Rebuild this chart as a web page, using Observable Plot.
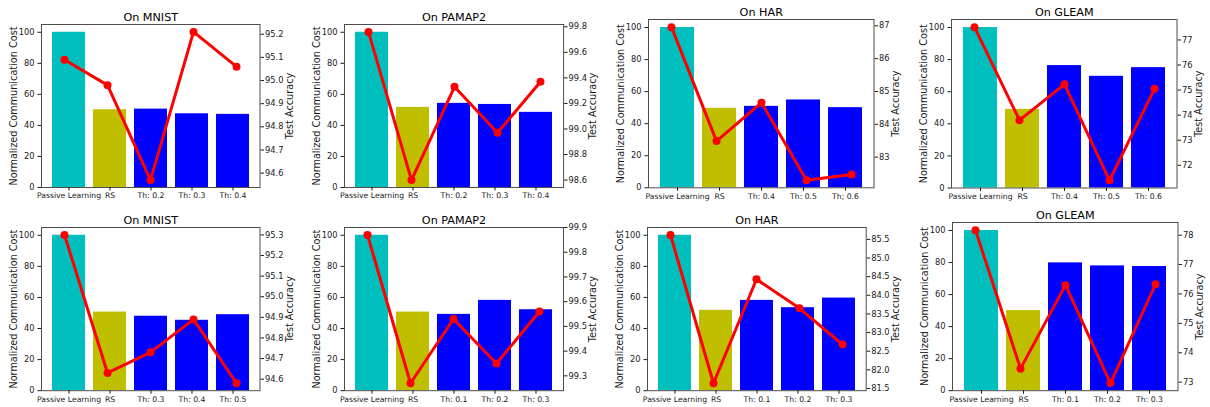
<!DOCTYPE html>
<html>
<head>
<meta charset="utf-8">
<script src="https://cdn.jsdelivr.net/npm/d3@7"></script>
<script src="https://cdn.jsdelivr.net/npm/@observablehq/plot@0.6"></script>
<style>
  body { margin: 0; background: #fff; }
  #fig { position: relative; width: 1210px; height: 407px; overflow: hidden; background: #fff; }
  #fig svg { position: absolute; overflow: visible; }
</style>
</head>
<body>
<div id="fig"></div>
<script>
// Communication cost (bars, left axis) and test accuracy (red line, right axis)
// for passive learning, random sampling and several thresholds, per dataset.
const titles = ["On MNIST", "On PAMAP2", "On HAR", "On GLEAM",
                "On MNIST", "On PAMAP2", "On HAR", "On GLEAM"];

const categories = [
  ["Passive Learning", "RS", "Th: 0.2", "Th: 0.3", "Th: 0.4"],
  ["Passive Learning", "RS", "Th: 0.2", "Th: 0.3", "Th: 0.4"],
  ["Passive Learning", "RS", "Th: 0.4", "Th: 0.5", "Th; 0.6"],
  ["Passive Learning", "RS", "Th: 0.4", "Th: 0.5", "Th: 0.6"],
  ["Passive Learning", "RS", "Th: 0.3", "Th: 0.4", "Th: 0.5"],
  ["Passive Learning", "RS", "Th: 0.1", "Th: 0.2", "Th: 0.3"],
  ["Passive Learning", "RS", "Th: 0.1", "Th: 0.2", "Th: 0.3"],
  ["Passive Learning", "RS", "Th: 0.1", "Th: 0.2", "Th: 0.3"]
];

const commCost = [
  [100, 50.1, 50.5, 47.5, 47.1],
  [100, 51.6, 54.2, 53.5, 48.4],
  [100, 49.6, 50.8, 54.8, 50.0],
  [100, 49.0, 76.3, 69.6, 75.0],
  [100, 50.6, 47.9, 45.3, 48.9],
  [100, 50.6, 49.1, 58.1, 52.1],
  [100, 51.7, 58.1, 53.4, 59.6],
  [100, 50.0, 79.8, 77.9, 77.5]
];

const testAccuracy = [
  [95.09, 94.98, 94.57, 95.21, 95.06],
  [99.76, 98.60, 99.33, 98.97, 99.37],
  [86.96, 83.49, 84.66, 82.30, 82.47],
  [77.51, 73.80, 75.23, 71.40, 75.05],
  [95.30, 94.63, 94.73, 94.89, 94.58],
  [99.87, 99.27, 99.53, 99.35, 99.56],
  [85.62, 81.64, 84.43, 83.65, 82.68],
  [78.17, 73.46, 76.30, 72.97, 76.33]
];

const costTicks = [0, 20, 40, 60, 80, 100];

const accuracyTicks = [
  [94.6, 94.7, 94.8, 94.9, 95.0, 95.1, 95.2],
  [98.6, 98.8, 99.0, 99.2, 99.4, 99.6, 99.8],
  [83, 84, 85, 86, 87],
  [72, 73, 74, 75, 76, 77],
  [94.6, 94.7, 94.8, 94.9, 95.0, 95.1, 95.2, 95.3],
  [99.3, 99.4, 99.5, 99.6, 99.7, 99.8, 99.9],
  [81.5, 82.0, 82.5, 83.0, 83.5, 84.0, 84.5, 85.0, 85.5],
  [73, 74, 75, 76, 77, 78]
];
const accuracyDecimals = [1, 1, 0, 0, 1, 1, 1, 0];

// Plot-area rectangles of the 2 x 4 grid (page pixels).
const frames = [
  {L: 41,    R: 259.5,  T: 24,    B: 187},
  {L: 344.2, R: 563.3,  T: 24,    B: 187},
  {L: 648.3, R: 873.8,  T: 18.7,  B: 187},
  {L: 951.3, R: 1176.8, T: 18.5,  B: 187},
  {L: 41,    R: 259.5,  T: 227.3, B: 390.5},
  {L: 344.3, R: 563.3,  T: 227.3, B: 390.5},
  {L: 647.3, R: 866,    T: 227.3, B: 390.5},
  {L: 951.5, R: 1177,   T: 222.3, B: 390.5}
];

const FONT = "'DejaVu Sans', 'Liberation Sans', sans-serif";
const TICK_FONT = 8.3;
const XTICK_FONT = 7.7;
const LABEL_FONT = 9.7;
const TITLE_FONT = 11.2;
const PAD = {left: 50, right: 50, top: 30, bottom: 22};

const barColor = i => i === 0 ? "#00bfbf" : i === 1 ? "#bfbf00" : "#0000ff";

const measure = document.createElement("canvas").getContext("2d");
measure.font = `${TICK_FONT}px 'DejaVu Sans'`;

const fig = document.getElementById("fig");

frames.forEach((f, k) => {
  const rows = categories[k].map((cat, i) => ({i, cat, cost: commCost[k][i], acc: testAccuracy[k][i]}));
  const width = f.R - f.L + PAD.left + PAD.right;
  const height = f.B - f.T + PAD.top + PAD.bottom;
  const xScale = {domain: categories[k], paddingInner: 0.2, paddingOuter: 0.24};
  const common = {
    width, height,
    marginLeft: PAD.left, marginRight: PAD.right, marginTop: PAD.top, marginBottom: PAD.bottom,
    style: {fontFamily: FONT, fontSize: `${TICK_FONT}px`, color: "#1a1a1a", background: "transparent", overflow: "visible"}
  };

  // Bars with the cost axis, title and frame
  const base = Plot.plot({
    ...common,
    x: xScale,
    y: {domain: [0, d3.max(commCost[k]) * 1.05]},
    color: {type: "identity"},
    marks: [
      Plot.barY(rows, {x: "cat", y: "cost", fill: d => barColor(d.i)}),
      Plot.frame({stroke: "#4d4d4d", strokeWidth: 1}),
      Plot.axisX({tickSize: 3.5, tickPadding: 2, fontSize: XTICK_FONT, label: null}),
      Plot.axisY({ticks: costTicks, tickSize: 3.5, tickPadding: 3.5, fontSize: TICK_FONT, label: null}),
      Plot.text([titles[k]], {text: d => d, frameAnchor: "top", dy: -3.5, lineAnchor: "bottom",
                              textAnchor: "middle", fontSize: TITLE_FONT, fill: "#000"}),
      Plot.text(["Normalized Communication Cost"], {text: d => d, frameAnchor: "left", dx: -28,
                              rotate: -90, textAnchor: "middle", lineAnchor: "middle",
                              fontSize: LABEL_FONT, fill: "#1a1a1a"})
    ]
  });

  // Accuracy line on its own right-hand axis, with matplotlib-style 5% margins
  const acc = testAccuracy[k];
  const lo = d3.min(acc), hi = d3.max(acc), span = hi - lo;
  const fmt = d => d.toFixed(accuracyDecimals[k]);
  const tickW = d3.max(accuracyTicks[k], t => measure.measureText(fmt(t)).width);
  const overlay = Plot.plot({
    ...common,
    x: {...xScale, axis: null},
    y: {domain: [lo - 0.05 * span, hi + 0.05 * span]},
    marks: [
      Plot.line(rows, {x: "cat", y: "acc", stroke: "#ff0000", strokeWidth: 3}),
      Plot.dot(rows, {x: "cat", y: "acc", fill: "#ff0000", r: 4}),
      Plot.axisY({anchor: "right", ticks: accuracyTicks[k], tickFormat: fmt, tickSize: 3.5,
                  tickPadding: 1.5, fontSize: TICK_FONT, label: null}),
      Plot.text(["Test Accuracy"], {text: d => d, frameAnchor: "right", dx: 3.5 + 1.5 + tickW + 6,
                  rotate: -90, textAnchor: "middle", lineAnchor: "middle",
                  fontSize: LABEL_FONT, fill: "#1a1a1a"})
    ]
  });

  for (const svg of [base, overlay]) {
    svg.style.left = `${f.L - PAD.left}px`;
    svg.style.top = `${f.T - PAD.top}px`;
    fig.appendChild(svg);
  }
});
</script>
</body>
</html>
